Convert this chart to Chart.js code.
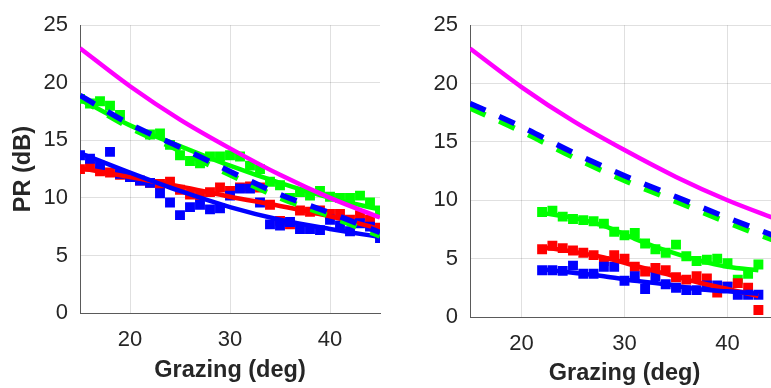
<!DOCTYPE html>
<html>
<head>
<meta charset="utf-8">
<script src="https://cdn.jsdelivr.net/npm/chart.js@4"></script>
<style>
  html, body { margin: 0; padding: 0; background: #fff; overflow: hidden; width: 771px; height: 388px; }
  #left { position: absolute; left: 0; top: 0; }
  #right { position: absolute; left: 395px; top: 0; }
</style>
</head>
<body>
<canvas id="left" width="395" height="388"></canvas>
<canvas id="right" width="400" height="388"></canvas>
<script>
// tick labels
const xTickValues = [20, 30, 40];
const yTickValues = [0, 5, 10, 15, 20, 25];

// model curves (both panels)
const curveAngles = [15, 20, 25, 30, 35, 40, 45];
const magentaCurve = [23.0, 19.7, 16.8, 14.3, 12.0, 10.0, 8.3];
const leftBlueDashed = [18.9, 16.4, 14.4, 12.3, 10.3, 8.7, 7.0];
const leftGreenDashed = [18.6, 16.1, 14.1, 12.0, 10.0, 8.4, 6.7];
const rightBlueDashed = [18.3, 16.3, 14.1, 12.1, 10.3, 8.5, 6.8];
const rightGreenDashed = [17.9, 15.9, 13.7, 11.7, 9.9, 8.1, 6.4];

// left panel fits
const leftGreenFit = [18.6, 16.3, 14.5, 12.8, 11.3, 10.0, 9.0];
const leftRedFit = [12.6, 11.8, 11.0, 10.1, 9.3, 8.4, 7.3];
const leftBlueFit = [13.9, 12.2, 10.6, 9.2, 8.1, 7.3, 6.6];

// left panel measurements
const leftAngles = [15, 16, 17, 18, 19, 20, 21, 22, 23, 24, 25, 26, 27, 28, 29, 30,
  31, 32, 33, 34, 35, 36, 37, 38, 39, 40, 41, 42, 43, 44, 45];
const leftGreen = [18.6, 18.2, 18.4, 18.0, 17.2, null, null, 15.5, 15.6, 14.6, 13.7, 13.2, 13.0, 13.6, 13.6, 13.7,
  13.6, 12.8, 12.5, 11.4, 11.1, 10.0, 10.5, 10.2, 10.6, 10.1, 10.0, 10.0, 10.2, 9.6, 8.9];
const leftRed = [12.5, 12.7, 12.3, 12.2, 12.0, 11.8, 11.5, 11.3, 11.2, 11.4, 10.7, 10.3, 10.2, 10.5, 10.9, 10.6,
  10.9, 11.0, 10.9, 9.4, 8.0, 7.7, 8.9, 8.8, 8.9, 8.6, 8.6, 8.1, 8.5, 8.1, 7.4];
const leftBlue = [13.7, 13.4, 12.8, 14.0, 12.1, 11.8, 11.5, 11.3, 10.4, 9.6, 8.5, 9.2, 9.4, 9.0, 9.1, 10.2,
  10.8, 10.8, 9.6, 7.7, 7.6, 7.9, 7.3, 7.3, 7.2, 8.1, 7.6, 7.1, 7.8, 7.5, 6.5];

// right panel fits
const rightFitAngles = [22, 25, 28, 31, 34, 37, 40, 43];
const rightGreenFit = [8.9, 8.5, 7.8, 6.7, 5.7, 4.9, 4.3, 4.0];
const rightRedFit = [6.0, 5.6, 5.1, 4.4, 3.7, 3.0, 2.4, 1.8];
const rightBlueFit = [4.1, 3.8, 3.5, 3.1, 2.8, 2.4, 2.2, 2.0];

// right panel measurements
const rightAngles = [22, 23, 24, 25, 26, 27, 28, 29, 30, 31, 32, 33, 34, 35, 36, 37, 38, 39, 40, 41, 42, 43];
const rightGreen = [9.0, 9.1, 8.6, 8.4, 8.3, 8.2, 8.0, 7.3, 7.0, 7.2, 6.3, 5.8, 5.5, 6.2, 5.2, 4.8, 4.9, 5.0, 4.6, 3.2, 3.7, 4.5];
const rightRed = [5.8, 6.1, 5.9, 5.7, 5.5, 5.3, 4.8, 5.3, 5.0, 4.3, 3.9, 4.2, 4.0, 3.4, 3.2, 3.5, 3.3, 2.1, 2.6, 2.9, 2.5, 0.6];
const rightBlue = [4.0, 4.0, 3.95, 4.4, 3.7, 3.7, 4.3, 4.3, 3.1, 3.5, 2.4, 3.5, 2.8, 2.5, 2.3, 2.3, 2.7, 2.7, 2.6, 1.9, 1.9, 1.9];

const BLUE = "#0000ff";
const RED = "#ff0000";
const GREEN = "#00ff00";
const MAGENTA = "#ff00ff";
const TEXT = "#262626";
const FONT = "'Liberation Sans', Arial, sans-serif";

const pairs = (xs, ys) => xs.map((x, i) => ({ x: x, y: ys[i] }));

const curve = (xs, ys, color, order, dashed) => ({
  data: pairs(xs, ys),
  borderColor: color,
  borderWidth: dashed ? 5.5 : 4.5,
  borderDash: dashed ? [17, 15] : [],
  pointRadius: 0,
  fill: false,
  cubicInterpolationMode: "monotone",
  order: order,
});

const squares = (xs, ys, color, order) => ({
  data: pairs(xs, ys),
  showLine: false,
  pointStyle: "rect",
  pointRadius: 7,
  pointBackgroundColor: color,
  pointBorderWidth: 0,
  order: order,
});

function makePanel(id, datasets, box) {
  new Chart(document.getElementById(id), {
    type: "line",
    data: { datasets: datasets },
    options: {
      responsive: false,
      animation: false,
      events: [],
      layout: { padding: { left: 0, right: box.right, top: box.top, bottom: 0 } },
      plugins: { legend: { display: false }, tooltip: { enabled: false } },
      scales: {
        x: {
          type: "linear",
          min: 15,
          max: 45,
          afterBuildTicks: (axis) => { axis.ticks = xTickValues.map((v) => ({ value: v })); },
          afterFit: (axis) => { axis.height = box.xHeight; },
          grid: { color: "rgba(0,0,0,0.12)", drawTicks: false },
          border: { color: "#5a5a5a", width: 1 },
          ticks: { color: TEXT, font: { family: FONT, size: 22 }, padding: 14, maxRotation: 0 },
          title: {
            display: true,
            text: "Grazing (deg)",
            color: TEXT,
            font: { family: FONT, size: 23.5, weight: "bold" },
            padding: { top: 0, bottom: box.xTitlePad },
          },
        },
        y: {
          min: 0,
          max: 25,
          afterBuildTicks: (axis) => { axis.ticks = yTickValues.map((v) => ({ value: v })); },
          afterFit: (axis) => { axis.width = box.yWidth; },
          grid: { color: "rgba(0,0,0,0.12)", drawTicks: false },
          border: { color: "#5a5a5a", width: 1 },
          ticks: { color: TEXT, font: { family: FONT, size: 22 }, padding: 12 },
          title: {
            display: box.yTitle,
            text: "PR (dB)",
            color: TEXT,
            font: { family: FONT, size: 23.5, weight: "bold" },
            padding: { top: 9, bottom: 0 },
          },
        },
      },
    },
  });
}

makePanel("left", [
  curve(curveAngles, magentaCurve, MAGENTA, 1),
  curve(curveAngles, leftBlueDashed, BLUE, 2, true),
  curve(curveAngles, leftGreenDashed, GREEN, 3, true),
  curve(curveAngles, leftBlueFit, BLUE, 4),
  curve(curveAngles, leftRedFit, RED, 5),
  curve(curveAngles, leftGreenFit, GREEN, 6),
  squares(leftAngles, leftBlue, BLUE, 7),
  squares(leftAngles, leftRed, RED, 8),
  squares(leftAngles, leftGreen, GREEN, 9),
], { right: 15, top: 20, xHeight: 75, yWidth: 80, xTitlePad: 3, yTitle: true });

makePanel("right", [
  curve(curveAngles, magentaCurve, MAGENTA, 1),
  curve(curveAngles, rightBlueDashed, BLUE, 2, true),
  curve(curveAngles, rightGreenDashed, GREEN, 3, true),
  curve(rightFitAngles, rightBlueFit, BLUE, 4),
  curve(rightFitAngles, rightRedFit, RED, 5),
  curve(rightFitAngles, rightGreenFit, GREEN, 6),
  squares(rightAngles, rightBlue, BLUE, 7),
  squares(rightAngles, rightRed, RED, 8),
  squares(rightAngles, rightGreen, GREEN, 9),
], { right: 16, top: 19, xHeight: 71, yWidth: 75, xTitlePad: 0, yTitle: false });
</script>
</body>
</html>
